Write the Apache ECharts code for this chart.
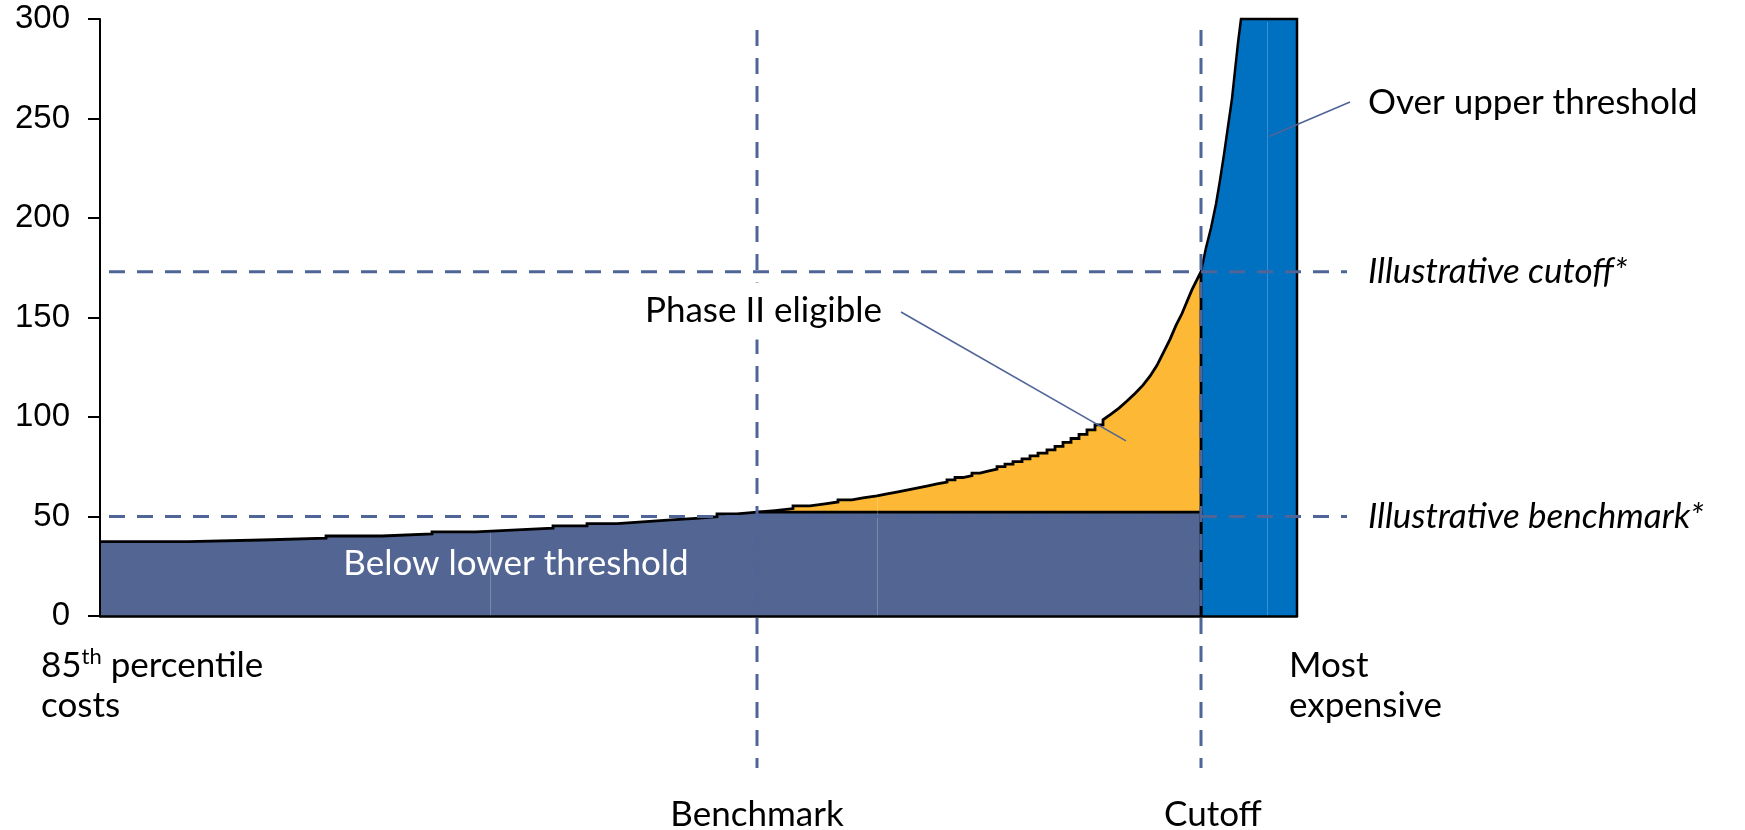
<!DOCTYPE html>
<html>
<head>
<meta charset="utf-8">
<script src="https://cdn.jsdelivr.net/npm/echarts@6/dist/echarts.min.js"></script>
<style>
  html, body { margin: 0; padding: 0; background: #ffffff; }
  #chart { width: 1745px; height: 830px; }
</style>
</head>
<body>
<div id="chart"></div>
<script>
// Cost curve: providers ranked from the 85th percentile of cost up to the most expensive.
// Each pair is [rank position, cost] where the curve takes a new value.
const costSteps = [
  [0, 37.4], [88, 38.2], [162, 39.1], [226, 40.2], [282, 41.2], [332, 42.3],
  [376, 43.3], [417, 44.1], [453, 45.3], [487, 46.4], [517, 47.4], [546, 48.3],
  [571, 49.1], [596, 49.9], [617, 51.3], [637, 52.2], [657, 53], [675, 54],
  [693, 55.3], [710, 56.3], [725, 57.3], [738, 58.4], [752, 59.4], [763, 60.4],
  [777, 61.4], [787, 62.4], [798, 63.4], [808, 64.4], [818, 65.4], [828, 66.4],
  [837, 67.3], [847, 68.4], [855, 69.6], [863, 70.6], [872, 71.8], [880, 72.8],
  [888, 73.8], [897, 75.1], [905, 76.3], [913, 77.6], [922, 79], [930, 80.5],
  [938, 81.8], [947, 83.5], [955, 85.2], [963, 87.2], [971, 89.2], [979, 91.3],
  [987, 93.5], [995, 96], [1003, 98.6], [1011, 101.5], [1019, 104.5], [1027, 108],
  [1035, 111.8], [1043, 116], [1050, 120.5], [1057, 126], [1064, 133], [1070, 139],
  [1076, 146], [1082, 152], [1087, 158], [1092, 164], [1097, 169],
  [1101, 173], [1106, 185], [1111, 195], [1116, 207], [1120, 219], [1124, 232],
  [1128, 246], [1132, 260], [1135, 274], [1138, 288], [1141, 300]
];

const yTicks = [0, 50, 100, 150, 200, 250, 300];
const lastRank = 1197;        // most expensive provider
const benchmarkRank = 657;    // where the curve passes the benchmark
const cutoffRank = 1101;      // where the curve passes the cutoff
const benchmarkCost = 50;     // illustrative benchmark
const cutoffCost = 173;       // illustrative cutoff
const lowerBand = 52.2;       // top of the below-lower-threshold band
const stairsUntil = 1003;     // the curve is drawn as stairs up to this rank, joined directly after
const seamRanks = [390, 777, 1167];

// Leader line targets inside the shaded regions, [rank, cost]
const phaseTwoPoint = [1026, 88];
const overUpperPoint = [1169, 241];

const NAVY = '#536693';
const GOLD = '#FDB935';
const BLUE = '#0070C0';
const REF = '#4F6497';
const LABEL_FONT = 'Lato, "Open Sans", sans-serif';
const LABEL_SIZE = 35;

function costAt(rank) {
  let v = costSteps[0][1];
  for (const [x, y] of costSteps) { if (x <= rank) v = y; else break; }
  return v;
}

// Outline of the curve: a stair riser before each new value in the flat part
const curvePath = [];
costSteps.forEach(([x, y], i) => {
  if (i > 0 && x <= stairsUntil) curvePath.push([x, costSteps[i - 1][1]]);
  curvePath.push([x, y]);
});

// Below lower threshold: the part of each cost up to the band top, up to the cutoff
const navyData = curvePath.filter(([x]) => x < cutoffRank).map(([x, y]) => [x, Math.min(y, lowerBand)]);
navyData.push([cutoffRank, lowerBand], [cutoffRank, 0]);

// Phase II eligible: costs between the benchmark and the cutoff
const goldData = curvePath.filter(([x]) => x >= benchmarkRank && x <= cutoffRank).map(p => p.slice());
goldData.push([cutoffRank, 0]);

// Over upper threshold: costs past the cutoff
const blueData = curvePath.filter(([x]) => x >= cutoffRank).map(p => p.slice());
blueData.push([lastRank, blueData[blueData.length - 1][1]], [lastRank, 0]);

const chart = echarts.init(document.getElementById('chart'), null, { renderer: 'canvas' });

chart.setOption({
  animation: false,
  backgroundColor: '#ffffff',
  grid: { left: 100, right: 448, top: 19, bottom: 214, containLabel: false },
  xAxis: {
    type: 'value', min: 0, max: lastRank, z: 10,
    axisLine: { show: true, onZero: false, lineStyle: { color: '#000', width: 2.5 } },
    axisTick: { show: false }, axisLabel: { show: false }, splitLine: { show: false }
  },
  yAxis: {
    type: 'value', min: yTicks[0], max: yTicks[yTicks.length - 1], interval: yTicks[1] - yTicks[0], z: 10,
    axisLine: { show: true, lineStyle: { color: '#000', width: 2 } },
    axisTick: { show: true, length: 12, lineStyle: { color: '#000', width: 2 } },
    axisLabel: { color: '#000', fontFamily: '"Liberation Sans", Arial, sans-serif', fontSize: 33, margin: 30 },
    splitLine: { show: false }
  },
  series: [
    {
      name: 'Over upper threshold', type: 'line', z: 2, clip: false,
      data: blueData, showSymbol: false, silent: true,
      lineStyle: { color: '#000', width: 2.5, join: 'miter' },
      areaStyle: { color: BLUE, opacity: 1 }
    },
    {
      name: 'Phase II eligible', type: 'line', z: 3,
      data: goldData, showSymbol: false, silent: true,
      lineStyle: { color: '#000', width: 2.8, join: 'miter' },
      areaStyle: { color: GOLD, opacity: 1 }
    },
    {
      name: 'Below lower threshold', type: 'line', z: 4,
      data: navyData, showSymbol: false, silent: true,
      lineStyle: { color: '#000', width: 2.8, join: 'miter' },
      areaStyle: { color: NAVY, opacity: 1 },
      markLine: {
        silent: true, symbol: 'none', animation: false,
        label: { show: false },
        lineStyle: { color: 'rgba(255,255,255,0.22)', width: 1, type: 'solid' },
        data: seamRanks.map(x => [{ coord: [x, 0] }, { coord: [x, costAt(x) - 1.5] }])
      }
    }
  ]
});

const px = (x, y) => chart.convertToPixel({ gridIndex: 0 }, [x, y]);

// Extents of the reference lines beyond the plot
const refLeft = 109, refRight = 1347, refTop = 30, refBottom = 768;

const dashed = { stroke: REF, lineWidth: 3, lineDash: [16, 12] };
const lead = { stroke: REF, lineWidth: 1.6 };

function text(str, x, y, opts) {
  return {
    type: 'text', z: 120, x: x, y: y,
    style: Object.assign({
      text: str, fill: '#000', fontFamily: LABEL_FONT, fontSize: LABEL_SIZE,
      align: 'left', verticalAlign: 'middle', textAlign: 'left', textVerticalAlign: 'middle'
    }, opts || {})
  };
}

const yCut = px(0, cutoffCost)[1];
const yBench = px(0, benchmarkCost)[1];
const xBench = px(benchmarkRank, 0)[0];
const xCut = px(cutoffRank, 0)[0];
const p2 = px(phaseTwoPoint[0], phaseTwoPoint[1]);
const ou = px(overUpperPoint[0], overUpperPoint[1]);
const bandMid = px(0, lowerBand / 2)[1];

chart.setOption({
  graphic: [
    { type: 'line', z: 110, shape: { x1: refLeft, y1: yCut, x2: refRight, y2: yCut }, style: dashed },
    { type: 'line', z: 110, shape: { x1: refLeft, y1: yBench, x2: refRight, y2: yBench }, style: dashed },
    { type: 'line', z: 110, shape: { x1: xBench, y1: refTop, x2: xBench, y2: refBottom }, style: dashed },
    { type: 'line', z: 110, shape: { x1: xCut, y1: refTop, x2: xCut, y2: refBottom }, style: dashed },

    { type: 'line', z: 115, shape: { x1: 901, y1: 312, x2: p2[0], y2: p2[1] }, style: lead },
    { type: 'line', z: 115, shape: { x1: 1350, y1: 102, x2: ou[0], y2: ou[1] }, style: lead },

    text('Over upper threshold', 1368, 103),
    text('Illustrative cutoff*', 1368, yCut, { fontStyle: 'italic' }),
    text('Illustrative benchmark*', 1368, yBench, { fontStyle: 'italic' }),
    text('Phase II eligible', 641, 311, { backgroundColor: '#ffffff', padding: [8, 4, 14, 4] }),
    text('Below lower threshold', 516, bandMid, { fill: '#ffffff', align: 'center', textAlign: 'center' }),

    text('{a|85}{s|th}{a| percentile}\n{a|costs}', 41, 686, {
      lineHeight: 40,
      rich: {
        a: { fontFamily: LABEL_FONT, fontSize: LABEL_SIZE, lineHeight: 40, fill: '#000' },
        s: { fontFamily: LABEL_FONT, fontSize: 22, lineHeight: 40, verticalAlign: 'top', fill: '#000' }
      }
    }),
    text('Most\nexpensive', 1289, 686, { lineHeight: 40 }),
    text('Benchmark', xBench, 815, { align: 'center', textAlign: 'center' }),
    text('Cutoff', xCut + 12, 815, { align: 'center', textAlign: 'center' })
  ]
});
</script>
</body>
</html>
